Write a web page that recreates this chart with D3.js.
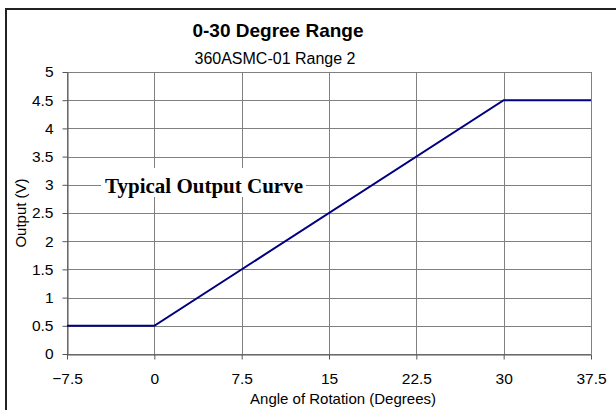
<!DOCTYPE html>
<html>
<head>
<meta charset="utf-8">
<script src="https://cdn.jsdelivr.net/npm/d3@7"></script>
<style>
  body { margin: 0; background: #fff; }
  svg { display: block; }
  text { font-family: Arial, "Liberation Sans", sans-serif; fill: #000; }
</style>
</head>
<body>
<div id="chart"></div>
<script>
// chart values
var angles = [-7.5, 0, 30, 37.5];
var outputs = [0.5, 0.5, 4.5, 4.5];
var xTicks = [-7.5, 0, 7.5, 15, 22.5, 30, 37.5];
var yTicks = [0, 0.5, 1, 1.5, 2, 2.5, 3, 3.5, 4, 4.5, 5];

var title = "0-30 Degree Range";
var subtitle = "360ASMC-01 Range 2";
var note = "Typical Output Curve";

var width = 616, height = 410;
var plot = { left: 67, right: 591, top: 72, bottom: 354 };

var svg = d3.select("#chart")
  .append("svg")
  .attr("width", width)
  .attr("height", height);

// outer frame (runs off the right and bottom edge)
svg.append("rect")
  .attr("x", 6)
  .attr("y", 9)
  .attr("width", 640)
  .attr("height", 440)
  .attr("fill", "none")
  .attr("stroke", "#222")
  .attr("stroke-width", 2);

var x = d3.scaleLinear().domain([-7.5, 37.5]).range([plot.left, plot.right]);
var y = d3.scaleLinear().domain([0, 5]).range([plot.bottom, plot.top]);

// grid
svg.append("g")
  .selectAll("line.h")
  .data(yTicks)
  .enter()
  .append("line")
  .attr("class", "h")
  .attr("x1", plot.left)
  .attr("x2", plot.right)
  .attr("y1", function(d) { return Math.round(y(d)) + 0.5; })
  .attr("y2", function(d) { return Math.round(y(d)) + 0.5; })
  .attr("stroke", "#808080")
  .attr("stroke-width", 1);

svg.append("g")
  .selectAll("line.v")
  .data(xTicks)
  .enter()
  .append("line")
  .attr("class", "v")
  .attr("y1", plot.top)
  .attr("y2", plot.bottom)
  .attr("x1", function(d) { return Math.round(x(d)) + 0.5; })
  .attr("x2", function(d) { return Math.round(x(d)) + 0.5; })
  .attr("stroke", "#808080")
  .attr("stroke-width", 1);

// axes
var xAxis = d3.axisBottom(x)
  .tickValues(xTicks)
  .tickSize(5)
  .tickSizeOuter(0)
  .tickPadding(13)
  .tickFormat(d3.format("~g"));

var yAxis = d3.axisLeft(y)
  .tickValues(yTicks)
  .tickSize(5)
  .tickSizeOuter(0)
  .tickPadding(9)
  .tickFormat(d3.format("~g"));

var gx = svg.append("g")
  .attr("transform", "translate(0," + (Math.round(plot.bottom) + 0.5) + ")")
  .call(xAxis);
var gy = svg.append("g")
  .attr("transform", "translate(" + (Math.round(plot.left) + 0.5) + ",0)")
  .call(yAxis);

[gx, gy].forEach(function(g) {
  g.selectAll("path, line").attr("stroke", "#555");
  g.selectAll("text")
    .style("font-family", "Arial, 'Liberation Sans', sans-serif")
    .style("font-size", "15.5px")
    .attr("fill", "#000");
});
gx.selectAll("text").attr("dy", "0.71em");

// note label with white backing
var noteG = svg.append("g");
noteG.append("rect")
  .attr("x", 101)
  .attr("y", 168)
  .attr("width", 205)
  .attr("height", 29)
  .attr("fill", "#fff");
noteG.append("text")
  .attr("x", 204)
  .attr("y", 193)
  .attr("text-anchor", "middle")
  .style("font-family", "'Liberation Serif', 'Times New Roman', serif")
  .style("font-weight", "bold")
  .style("font-size", "21px")
  .attr("fill", "#222")
  .text(note);

// curve
var line = d3.line()
  .x(function(d) { return x(d[0]); })
  .y(function(d) { return y(d[1]); });

svg.append("path")
  .datum(d3.zip(angles, outputs))
  .attr("d", line)
  .attr("fill", "none")
  .attr("stroke", "#000080")
  .attr("stroke-width", 2);

// titles
svg.append("text")
  .attr("x", 278)
  .attr("y", 37)
  .attr("text-anchor", "middle")
  .style("font-size", "19px")
  .style("font-weight", "bold")
  .text(title);

svg.append("text")
  .attr("x", 275)
  .attr("y", 64)
  .attr("text-anchor", "middle")
  .style("font-size", "16px")
  .text(subtitle);

svg.append("text")
  .attr("x", (plot.left + plot.right) / 2 + 14)
  .attr("y", 404)
  .attr("text-anchor", "middle")
  .style("font-size", "15px")
  .text("Angle of Rotation (Degrees)");

svg.append("text")
  .attr("transform", "translate(26," + ((plot.top + plot.bottom) / 2) + ") rotate(-90)")
  .attr("text-anchor", "middle")
  .style("font-size", "15px")
  .text("Output (V)");
</script>
</body>
</html>
